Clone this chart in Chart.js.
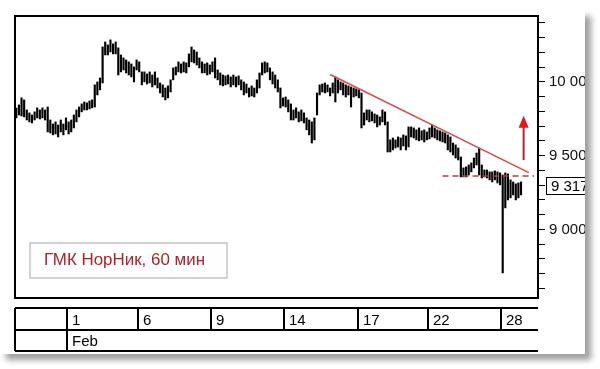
<!DOCTYPE html>
<html>
<head>
<meta charset="utf-8">
<script src="https://cdn.jsdelivr.net/npm/chart.js@4.4.1/dist/chart.umd.min.js"></script>
<style>
    html, body { margin: 0; padding: 0; background: #fff; }
    #panel {
        position: absolute;
        left: 0;
        top: 10px;
        width: 585px;
        height: 344px;
        background: #fff;
        box-shadow: 6px 6px 6px rgba(0, 0, 0, 0.38);
    }
</style>
</head>
<body>
<div id="panel"><canvas id="chart" width="585" height="344"></canvas></div>
<script>
// Hourly bars, Feb 2012 (high / low)
const barHigh = [
    9823, 9844, 9892, 9878, 9810, 9790, 9776, 9797, 9824, 9810,
    9824, 9810, 9830, 9742, 9715, 9729, 9708, 9742, 9715, 9756,
    9729, 9742, 9776, 9810, 9830, 9851, 9864, 9858, 9871, 9878,
    9980, 10000, 10027, 10237, 10271, 10251, 10285, 10258, 10271, 10231,
    10183, 10163, 10149, 10136, 10122, 10102, 10149, 10136, 10068, 10068,
    10054, 10068, 10047, 10068, 10027, 9993, 9980, 9959, 9973, 10014,
    10095, 10102, 10136, 10122, 10136, 10129, 10190, 10237, 10217, 10203,
    10163, 10136, 10122, 10129, 10115, 10136, 10163, 10081, 10061, 10047,
    10041, 10047, 10034, 10047, 10034, 10041, 10014, 10000, 9986, 9959,
    9973, 9959, 10014, 10061, 10129, 10136, 10129, 10095, 10068, 10047,
    10014, 9959, 9892, 9898, 9878, 9851, 9810, 9824, 9797, 9810,
    9790, 9756, 9742, 9729, 9756, 9925, 9980, 9986, 9993, 9980,
    9959, 9993, 10034, 10014, 10000, 9993, 9980, 9973, 9966, 9959,
    9953, 9946, 9925, 9790, 9810, 9810, 9797, 9783, 9776, 9763,
    9810, 9797, 9729, 9607, 9620, 9607, 9627, 9620, 9641, 9634,
    9695, 9695, 9688, 9675, 9688, 9668, 9675, 9661, 9688, 9708,
    9688, 9675, 9668, 9661, 9654, 9641, 9627, 9586, 9573, 9552,
    9491, 9417, 9424, 9437, 9451, 9484, 9518, 9552, 9437, 9403,
    9403, 9390, 9390, 9397, 9390, 9383, 9369, 9383, 9376, 9336,
    9322, 9309, 9315, 9322
];
const barLow = [
    9756, 9776, 9769, 9763, 9742, 9729, 9722, 9742, 9756, 9749,
    9756, 9742, 9661, 9654, 9641, 9647, 9627, 9661, 9641, 9675,
    9647, 9661, 9688, 9729, 9763, 9797, 9810, 9810, 9817, 9824,
    9830, 9912, 9946, 9993, 10183, 10183, 10203, 10190, 10190, 10047,
    10068, 10081, 10061, 10047, 10034, 10000, 10081, 10068, 9980, 10000,
    9986, 9993, 9966, 9980, 9959, 9925, 9898, 9878, 9892, 9932,
    10014, 10047, 10068, 10061, 10068, 10061, 10102, 10136, 10129, 10115,
    10095, 10061, 10061, 10047, 10054, 10068, 10027, 10014, 9980, 9973,
    9980, 9986, 9966, 9980, 9966, 9980, 9946, 9912, 9925, 9898,
    9905, 9898, 9925, 9959, 10047, 10061, 10068, 10014, 9986, 9959,
    9932, 9824, 9837, 9830, 9797, 9742, 9742, 9756, 9729, 9736,
    9722, 9675, 9641, 9586, 9607, 9776, 9912, 9932, 9925, 9932,
    9905, 9925, 9864, 9925, 9946, 9912, 9898, 9912, 9830, 9898,
    9905, 9892, 9688, 9708, 9742, 9729, 9736, 9722, 9695, 9708,
    9729, 9708, 9525, 9525, 9539, 9552, 9559, 9539, 9566, 9539,
    9559, 9627, 9620, 9607, 9600, 9607, 9593, 9607, 9614, 9627,
    9620, 9607, 9600, 9593, 9586, 9539, 9525, 9505, 9484, 9471,
    9356, 9356, 9356, 9369, 9390, 9417, 9437, 9369, 9349, 9356,
    9349, 9336, 9322, 9336, 9315, 9302, 8705, 9146, 9200, 9214,
    9234, 9200, 9214, 9234
];
const SLOT_COUNT = 200;

// Day separators on the time table
const dayStartIndex = [20, 47, 75, 103, 131, 158, 186];
const dayLabels = ['1', '6', '9', '14', '17', '22', '28'];
const monthLabel = 'Feb';

// Price axis
const Y_MIN = 8535;
const Y_MAX = 10447;
const yTickValues = [8600, 8700, 8800, 8900, 9000, 9100, 9200, 9300, 9400, 9500,
    9600, 9700, 9800, 9900, 10000, 10100, 10200, 10300, 10400];
const lastPrice = 9317;

// Annotations
const trendStart = { index: 120, price: 10050 };
const trendEnd = { index: 196, price: 9385 };
const supportLevel = { from: 163, to: 198, price: 9363 };
const arrow = { index: 194, from: 9470, to: 9770 };
const titleText = 'ГМК НорНик, 60 мин';

// Colours
const BAR_COLOR = '#000000';
const TREND_RED = 'rgb(212, 78, 78)';
const DASH_RED = 'rgb(175, 62, 62)';
const ARROW_SHAFT = 'rgb(165, 45, 45)';
const ARROW_HEAD = 'rgb(228, 22, 22)';
const TITLE_RED = '#a8262b';
const FONT = "Arial, 'Liberation Sans', sans-serif";

const labels = Array.from({ length: SLOT_COUNT }, (_, i) => String(i));
const bars = barLow.map((lo, i) => [lo, barHigh[i]]);

const trendData = Array(SLOT_COUNT).fill(null);
trendData[trendStart.index] = trendStart.price;
trendData[trendEnd.index] = trendEnd.price;

const supportData = Array(SLOT_COUNT).fill(null);
supportData[supportLevel.from] = supportLevel.price;
supportData[supportLevel.to] = supportLevel.price;

function formatPrice(v) {
    return String(v).replace(/\B(?=(\d{3})+(?!\d))/g, ' ');
}

// Frame, time table, title box, arrow and last price box
const decorPlugin = {
    id: 'decor',
    afterDatasetsDraw(chart) {
        const ctx = chart.ctx;
        const area = chart.chartArea;
        const xs = chart.scales.x;
        const ys = chart.scales.y;
        const half = (xs.getPixelForValue(1) - xs.getPixelForValue(0)) / 2;

        ctx.save();

        // plot frame
        ctx.strokeStyle = '#000';
        ctx.lineWidth = 2;
        ctx.strokeRect(area.left, area.top, area.right - area.left, area.bottom - area.top);

        // time table
        const row0 = 298, row1 = 320, row2 = 341;
        ctx.lineWidth = 2;
        ctx.beginPath();
        [row0, row1, row2].forEach(y => {
            ctx.moveTo(area.left, y);
            ctx.lineTo(area.right, y);
        });
        ctx.moveTo(area.left, row0);
        ctx.lineTo(area.left, row2);
        dayStartIndex.forEach((idx, k) => {
            const x = Math.round(xs.getPixelForValue(idx) - half);
            ctx.moveTo(x, row0);
            ctx.lineTo(x, k === 0 ? row2 : row1);
        });
        ctx.stroke();

        ctx.fillStyle = '#000';
        ctx.font = '15px ' + FONT;
        ctx.textAlign = 'left';
        ctx.textBaseline = 'alphabetic';
        dayStartIndex.forEach((idx, k) => {
            const x = Math.round(xs.getPixelForValue(idx) - half);
            ctx.fillText(dayLabels[k], x + 5, row1 - 5);
        });
        ctx.fillText(monthLabel, Math.round(xs.getPixelForValue(dayStartIndex[0]) - half) + 5, row2 - 5);

        // title box
        ctx.fillStyle = '#fefefe';
        ctx.fillRect(30, 233, 197, 35);
        ctx.strokeStyle = '#c4c4c4';
        ctx.lineWidth = 1.5;
        ctx.strokeRect(30, 233, 197, 35);
        ctx.fillStyle = TITLE_RED;
        ctx.font = '17px ' + FONT;
        ctx.fillText(titleText, 44, 255, 161);

        // arrow
        const ax = xs.getPixelForValue(arrow.index);
        const yFrom = ys.getPixelForValue(arrow.from);
        const yTo = ys.getPixelForValue(arrow.to);
        ctx.strokeStyle = ARROW_SHAFT;
        ctx.lineWidth = 2;
        ctx.beginPath();
        ctx.moveTo(ax, yFrom);
        ctx.lineTo(ax, yTo + 10);
        ctx.stroke();
        ctx.fillStyle = ARROW_HEAD;
        ctx.beginPath();
        ctx.moveTo(ax, yTo);
        ctx.lineTo(ax - 5, yTo + 12);
        ctx.lineTo(ax + 5, yTo + 12);
        ctx.closePath();
        ctx.fill();

        // last price box
        const py = Math.round(ys.getPixelForValue(lastPrice)) + 3;
        ctx.strokeStyle = '#000';
        ctx.lineWidth = 1;
        ctx.strokeRect(546.5, py - 8.5, 60, 17);
        ctx.fillStyle = '#000';
        ctx.font = '15px ' + FONT;
        ctx.textBaseline = 'middle';
        ctx.fillText(formatPrice(lastPrice), 551, py + 1);

        ctx.restore();
    }
};

const ctx = document.getElementById('chart').getContext('2d');
new Chart(ctx, {
    type: 'bar',
    data: {
        labels: labels,
        datasets: [
            {
                type: 'line',
                data: trendData,
                borderColor: TREND_RED,
                borderWidth: 1.6,
                pointRadius: 0,
                spanGaps: true,
                order: 0
            },
            {
                type: 'line',
                data: supportData,
                borderColor: DASH_RED,
                borderWidth: 1.5,
                borderDash: [6, 4],
                pointRadius: 0,
                spanGaps: true,
                order: 0
            },
            {
                type: 'bar',
                data: bars,
                backgroundColor: BAR_COLOR,
                borderWidth: 0,
                barThickness: 1.5,
                order: 1
            }
        ]
    },
    options: {
        responsive: false,
        animation: false,
        layout: { padding: { left: 15, top: 6, bottom: 56, right: 0 } },
        plugins: {
            legend: { display: false },
            tooltip: { enabled: false }
        },
        scales: {
            x: { display: false, offset: true },
            y: {
                position: 'right',
                min: Y_MIN,
                max: Y_MAX,
                afterBuildTicks: scale => {
                    scale.ticks = yTickValues.map(v => ({ value: v }));
                },
                afterFit: scale => {
                    scale.width = 47;
                    scale.paddingTop = 0;
                    scale.paddingBottom = 0;
                },
                grid: { drawOnChartArea: false, tickLength: 7, color: '#000', lineWidth: 1 },
                border: { color: '#000', width: 2 },
                ticks: {
                    autoSkip: false,
                    padding: 4,
                    color: '#111',
                    font: { family: FONT, size: 15 },
                    callback: value => (value % 500 === 0 ? formatPrice(value) : '')
                }
            }
        }
    },
    plugins: [decorPlugin]
});
</script>
</body>
</html>
